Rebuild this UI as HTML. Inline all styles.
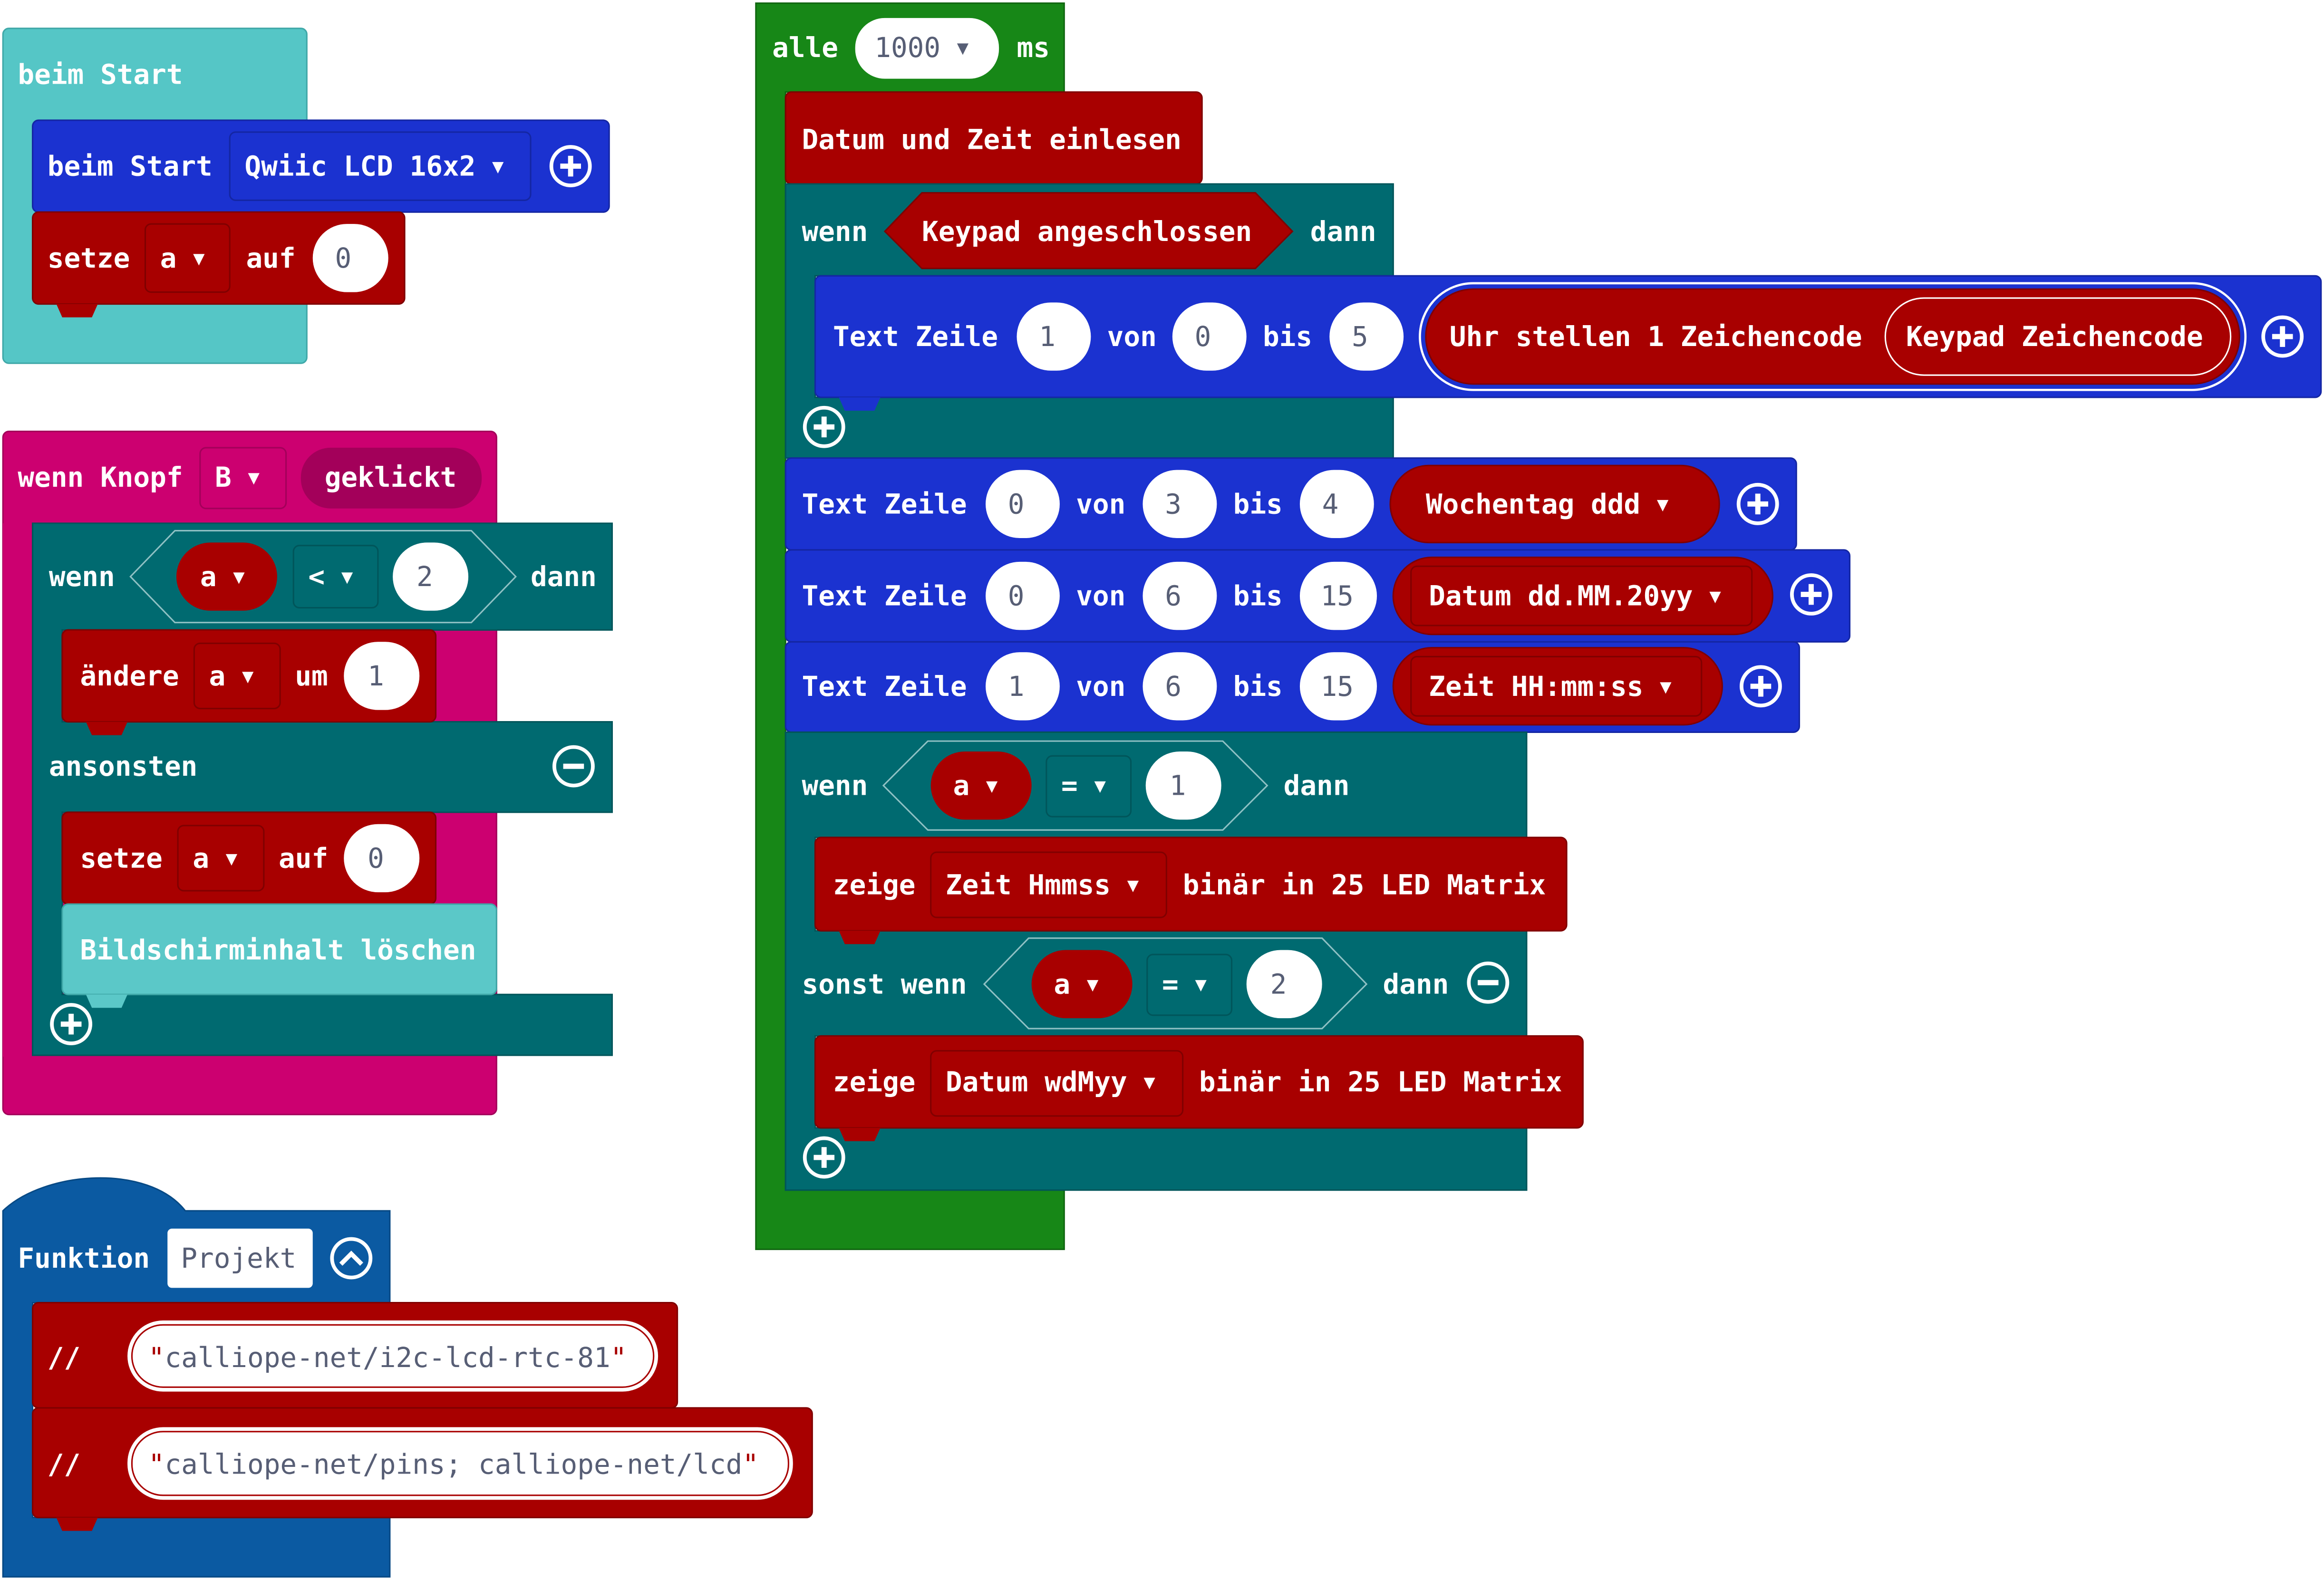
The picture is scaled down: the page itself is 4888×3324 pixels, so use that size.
<!DOCTYPE html>
<html><head><meta charset="utf-8"><style>
html,body{margin:0;padding:0;background:#fff;width:4888px;height:3324px;overflow:hidden}
svg{display:block}
text{font-family:"DejaVu Sans Mono","Liberation Mono",monospace;font-weight:bold;font-size:18.5px;fill:#fff;dominant-baseline:central}
.d{fill:#575E75;font-weight:normal}
.dt{font-size:13px}
</style></head><body>
<svg width="4888" height="3324" viewBox="0 0 1568 1066" xmlns="http://www.w3.org/2000/svg">
<defs>
<g id="plus"><circle r="13" fill="none" stroke="#fff" stroke-width="2.5"/><path d="M-7 0H7M0 -7V7" stroke="#fff" stroke-width="3.5"/></g>
<g id="minus"><circle r="13" fill="none" stroke="#fff" stroke-width="2.5"/><path d="M-7 0H7" stroke="#fff" stroke-width="3.5"/></g>
</defs>

<!-- Block 1: beim Start -->
<rect x="2" y="19" width="205" height="226" rx="4" fill="#55C6C6" stroke="#3fa8a8"/>
<text x="12" y="50">beim Start</text>
<rect x="22" y="81" width="389" height="62" rx="4" fill="#1B32D0" stroke="#1426a3"/>
<text x="32" y="112">beim Start</text>
<rect x="155" y="89" width="203" height="46" rx="4" fill="#1B32D0" stroke="#1426a3"/>
<text x="165" y="112">Qwiic LCD 16x2 <tspan class="dt">▼</tspan></text>
<use href="#plus" x="385" y="112"/>
<rect x="22" y="143" width="251" height="62" rx="4" fill="#A80000" stroke="#800000"/>
<path d="M38 205h28l-4 9h-20z" fill="#A80000"/>
<text x="32" y="174">setze</text>
<rect x="98" y="151" width="57" height="46" rx="4" fill="#A80000" stroke="#800000"/>
<text x="108" y="174">a <tspan class="dt">▼</tspan></text>
<text x="166" y="174">auf</text>
<rect x="211" y="151" width="51" height="46" rx="23" fill="#fff"/>
<text x="226" y="174" class="d">0</text>

<!-- Block 2: wenn Knopf -->
<rect x="2" y="291" width="333" height="461" rx="4" fill="#CC0070" stroke="#a3005a"/>
<rect x="2" y="353" width="20" height="360" fill="#CC0070"/>
<text x="12" y="322">wenn Knopf</text>
<rect x="135" y="302" width="58" height="41" rx="4" fill="#CC0070" stroke="#a3005a"/>
<text x="145" y="322">B <tspan class="dt">▼</tspan></text>
<rect x="203" y="302" width="122" height="41" rx="20" fill="#A3005A"/>
<text x="219" y="322">geklickt</text>
<path d="M22 353h391v72h-371v62h371v61h-371v123h371v41h-391z" fill="#006A70" stroke="#00555a"/>
<text x="33" y="389">wenn</text>
<path d="M88 389l30-31h200l30 31l-30 31h-200z" fill="#006A70" stroke="#8fc1c4"/>
<rect x="119" y="366" width="68" height="46" rx="23" fill="#A80000"/>
<text x="135" y="389">a <tspan class="dt">▼</tspan></text>
<rect x="198" y="368" width="57" height="42" rx="4" fill="#006A70" stroke="#00555a"/>
<text x="208" y="389">&lt; <tspan class="dt">▼</tspan></text>
<rect x="265" y="366" width="51" height="46" rx="23" fill="#fff"/>
<text x="281" y="389" class="d">2</text>
<text x="358" y="389">dann</text>
<rect x="42" y="425" width="252" height="62" rx="4" fill="#A80000" stroke="#800000"/>
<path d="M58 487h28l-4 9h-20z" fill="#A80000"/>
<text x="54" y="456">ändere</text>
<rect x="131" y="434" width="58" height="44" rx="4" fill="#A80000" stroke="#800000"/>
<text x="141" y="456">a <tspan class="dt">▼</tspan></text>
<text x="199" y="456">um</text>
<rect x="232" y="433" width="51" height="46" rx="23" fill="#fff"/>
<text x="248" y="456" class="d">1</text>
<text x="33" y="517">ansonsten</text>
<use href="#minus" x="387" y="517"/>
<rect x="42" y="548" width="252" height="62" rx="4" fill="#A80000" stroke="#800000"/>
<text x="54" y="579">setze</text>
<rect x="120" y="557" width="58" height="44" rx="4" fill="#A80000" stroke="#800000"/>
<text x="130" y="579">a <tspan class="dt">▼</tspan></text>
<text x="188" y="579">auf</text>
<rect x="232" y="556" width="51" height="46" rx="23" fill="#fff"/>
<text x="248" y="579" class="d">0</text>
<rect x="42" y="610" width="293" height="61" rx="4" fill="#5BC8C8" stroke="#3fa8a8"/>
<path d="M58 671h28l-4 9h-20z" fill="#5BC8C8"/>
<text x="54" y="641">Bildschirminhalt löschen</text>
<use href="#plus" x="48" y="691"/>

<!-- Block 3: Funktion -->
<path d="M2 817C30 790 100 785 125 817h138v62h-241v145h241v40h-261z" fill="#0B5AA2" stroke="#084a85"/>
<text x="12" y="849">Funktion</text>
<rect x="113" y="829" width="98" height="40" rx="3" fill="#fff"/>
<text x="122" y="849" class="d">Projekt</text>
<circle cx="237" cy="849" r="13" fill="none" stroke="#fff" stroke-width="2.5"/>
<path d="M230 853l7-7l7 7" fill="none" stroke="#fff" stroke-width="3"/>
<rect x="22" y="879" width="435" height="71" rx="4" fill="#A80000" stroke="#800000"/>
<text x="32" y="916">//</text>
<rect x="85" y="890" width="360" height="50" rx="25" fill="#fff" stroke="#A80000" stroke-width="2"/>
<rect x="89" y="894" width="352" height="42" rx="21" fill="none" stroke="#A80000" stroke-width="1"/>
<text x="100" y="916" class="d"><tspan fill="#A80000">"</tspan>calliope-net/i2c-lcd-rtc-81<tspan fill="#A80000">"</tspan></text>
<rect x="22" y="950" width="526" height="74" rx="4" fill="#A80000" stroke="#800000"/>
<path d="M38 1024h28l-4 9h-20z" fill="#A80000"/>
<text x="32" y="988">//</text>
<rect x="85" y="962" width="451" height="51" rx="25" fill="#fff" stroke="#A80000" stroke-width="2"/>
<rect x="89" y="966" width="443" height="43" rx="21" fill="none" stroke="#A80000" stroke-width="1"/>
<text x="100" y="988" class="d"><tspan fill="#A80000">"</tspan>calliope-net/pins; calliope-net/lcd<tspan fill="#A80000">"</tspan></text>

<!-- Block 4: alle -->
<path d="M510 2h208v60h-188v741h188v40h-208z" fill="#178717" stroke="#106610"/>
<text x="521" y="32">alle</text>
<rect x="577" y="12" width="97" height="41" rx="20" fill="#fff"/>
<text x="590" y="32" class="d">1000 <tspan class="dt" fill="#575E75">▼</tspan></text>
<text x="686" y="32">ms</text>
<rect x="530" y="62" width="281" height="62" rx="4" fill="#A80000" stroke="#800000"/>
<text x="541" y="94">Datum und Zeit einlesen</text>
<path d="M530 124h410v62h-390v82h390v41h-410z" fill="#006A70" stroke="#00555a"/>
<text x="541" y="156">wenn</text>
<path d="M597 156l25-26h225l25 26l-25 25h-225z" fill="#A80000" stroke="#800000"/>
<text x="622" y="156">Keypad angeschlossen</text>
<text x="884" y="156">dann</text>
<rect x="550" y="186" width="1016" height="82" rx="4" fill="#1B32D0" stroke="#1426a3"/>
<path d="M566 268h28l-4 9h-20z" fill="#1B32D0"/>
<text x="562" y="227">Text Zeile</text>
<rect x="686" y="204" width="50" height="46" rx="23" fill="#fff"/><text x="701" y="227" class="d">1</text>
<text x="747" y="227">von</text>
<rect x="791" y="204" width="50" height="46" rx="23" fill="#fff"/><text x="806" y="227" class="d">0</text>
<text x="852" y="227">bis</text>
<rect x="897" y="204" width="50" height="46" rx="23" fill="#fff"/><text x="912" y="227" class="d">5</text>
<rect x="958" y="191" width="557" height="72" rx="36" fill="#1B32D0" stroke="#fff" stroke-width="1.5"/>
<rect x="962" y="195" width="549" height="64" rx="32" fill="#A80000" stroke="#800000"/>
<text x="978" y="227">Uhr stellen 1 Zeichencode</text>
<rect x="1272" y="201" width="233" height="52" rx="26" fill="#A80000" stroke="#fff" stroke-width="1"/>
<text x="1286" y="227">Keypad Zeichencode</text>
<use href="#plus" x="1540" y="227"/>
<use href="#plus" x="556" y="288"/>

<rect x="530" y="309" width="682" height="62" rx="4" fill="#1B32D0" stroke="#1426a3"/>
<text x="541" y="340">Text Zeile</text>
<rect x="665" y="317" width="50" height="46" rx="23" fill="#fff"/><text x="680" y="340" class="d">0</text>
<text x="726" y="340">von</text>
<rect x="771" y="317" width="50" height="46" rx="23" fill="#fff"/><text x="786" y="340" class="d">3</text>
<text x="832" y="340">bis</text>
<rect x="877" y="317" width="50" height="46" rx="23" fill="#fff"/><text x="892" y="340" class="d">4</text>
<rect x="938" y="314" width="222" height="52" rx="26" fill="#A80000" stroke="#800000"/>
<text x="962" y="340">Wochentag ddd <tspan class="dt">▼</tspan></text>
<use href="#plus" x="1186" y="340"/>

<rect x="530" y="371" width="718" height="62" rx="4" fill="#1B32D0" stroke="#1426a3"/>
<text x="541" y="402">Text Zeile</text>
<rect x="665" y="379" width="50" height="46" rx="23" fill="#fff"/><text x="680" y="402" class="d">0</text>
<text x="726" y="402">von</text>
<rect x="771" y="379" width="50" height="46" rx="23" fill="#fff"/><text x="786" y="402" class="d">6</text>
<text x="832" y="402">bis</text>
<rect x="877" y="379" width="52" height="46" rx="23" fill="#fff"/><text x="891" y="402" class="d">15</text>
<rect x="940" y="376" width="256" height="52" rx="26" fill="#A80000" stroke="#800000"/>
<rect x="952" y="382" width="230" height="40" rx="4" fill="none" stroke="#800000"/>
<text x="964" y="402">Datum dd.MM.20yy <tspan class="dt">▼</tspan></text>
<use href="#plus" x="1222" y="401"/>

<rect x="530" y="433" width="684" height="61" rx="4" fill="#1B32D0" stroke="#1426a3"/>
<text x="541" y="463">Text Zeile</text>
<rect x="665" y="440" width="50" height="46" rx="23" fill="#fff"/><text x="680" y="463" class="d">1</text>
<text x="726" y="463">von</text>
<rect x="771" y="440" width="50" height="46" rx="23" fill="#fff"/><text x="786" y="463" class="d">6</text>
<text x="832" y="463">bis</text>
<rect x="877" y="440" width="52" height="46" rx="23" fill="#fff"/><text x="891" y="463" class="d">15</text>
<rect x="940" y="437" width="222" height="52" rx="26" fill="#A80000" stroke="#800000"/>
<rect x="952" y="443" width="196" height="40" rx="4" fill="none" stroke="#800000"/>
<text x="964" y="463">Zeit HH:mm:ss <tspan class="dt">▼</tspan></text>
<use href="#plus" x="1188" y="463"/>

<path d="M530 494h500v71h-480v63h480v71h-480v62h480v42h-500z" fill="#006A70" stroke="#00555a"/>
<text x="541" y="530">wenn</text>
<path d="M596 530l30-30h199l30 30l-30 30h-199z" fill="#006A70" stroke="#8fc1c4"/>
<rect x="628" y="507" width="68" height="46" rx="23" fill="#A80000"/>
<text x="643" y="530">a <tspan class="dt">▼</tspan></text>
<rect x="706" y="510" width="57" height="41" rx="4" fill="#006A70" stroke="#00555a"/>
<text x="716" y="530">= <tspan class="dt">▼</tspan></text>
<rect x="773" y="507" width="51" height="46" rx="23" fill="#fff"/>
<text x="789" y="530" class="d">1</text>
<text x="866" y="530">dann</text>
<rect x="550" y="565" width="507" height="63" rx="4" fill="#A80000" stroke="#800000"/>
<path d="M566 628h28l-4 9h-20z" fill="#A80000"/>
<text x="562" y="597">zeige</text>
<rect x="628" y="575" width="159" height="44" rx="4" fill="#A80000" stroke="#800000"/>
<text x="638" y="597">Zeit Hmmss <tspan class="dt">▼</tspan></text>
<text x="798" y="597">binär in 25 LED Matrix</text>
<text x="541" y="664">sonst wenn</text>
<path d="M664 664l30-31h198l30 31l-30 30h-198z" fill="#006A70" stroke="#8fc1c4"/>
<rect x="696" y="641" width="68" height="46" rx="23" fill="#A80000"/>
<text x="711" y="664">a <tspan class="dt">▼</tspan></text>
<rect x="774" y="644" width="57" height="41" rx="4" fill="#006A70" stroke="#00555a"/>
<text x="784" y="664">= <tspan class="dt">▼</tspan></text>
<rect x="841" y="641" width="51" height="46" rx="23" fill="#fff"/>
<text x="857" y="664" class="d">2</text>
<text x="933" y="664">dann</text>
<use href="#minus" x="1004" y="663"/>
<rect x="550" y="699" width="518" height="62" rx="4" fill="#A80000" stroke="#800000"/>
<path d="M566 761h28l-4 9h-20z" fill="#A80000"/>
<text x="562" y="730">zeige</text>
<rect x="628" y="709" width="170" height="44" rx="4" fill="#A80000" stroke="#800000"/>
<text x="638" y="730">Datum wdMyy <tspan class="dt">▼</tspan></text>
<text x="809" y="730">binär in 25 LED Matrix</text>
<use href="#plus" x="556" y="781"/>
</svg>
</body></html>
